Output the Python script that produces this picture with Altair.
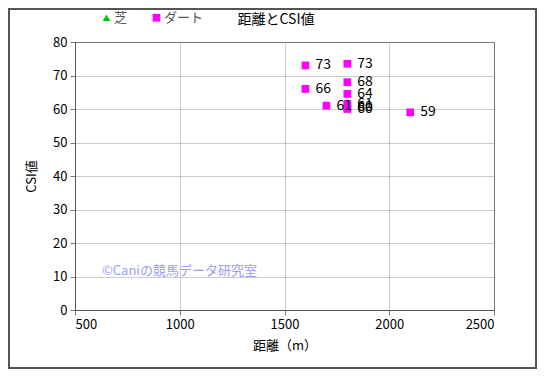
import altair as alt
import pandas as pd

# data
distance = [1600, 1800, 1600, 1800, 1800, 1700, 1800, 1800, 1800, 2100]
csi = [73, 73.5, 66, 68, 64.5, 61, 61.5, 60.5, 60, 59]
labels = ["73", "73", "66", "68", "64", "61", "61", "60", "60", "59"]
surface = ["ダート"] * 10
surface_domain = ["芝", "ダート"]
surface_colors = ["#00cc00", "#ff00ff"]
surface_shapes = ["triangle-up", "square"]

df = pd.DataFrame({"distance": distance, "csi": csi, "label": labels, "surface": surface})

FONT = "Noto Sans CJK JP"
W, H = 419, 268

x = alt.X("distance:Q", title="距離（m）",
          scale=alt.Scale(domain=[500, 2500], nice=False, zero=False),
          axis=alt.Axis(values=[500, 1000, 1500, 2000, 2500], format="d", titlePadding=8))
y = alt.Y("csi:Q", title="CSI値",
          scale=alt.Scale(domain=[0, 80], nice=False),
          axis=alt.Axis(values=list(range(0, 81, 10)), titlePadding=14))

leg = dict(title=None, orient="none", direction="horizontal",
           legendX=25, legendY=-31, labelFontSize=13, labelFont=FONT,
           labelColor="#555555", symbolSize=60, columnPadding=22, labelOffset=1)

points = alt.Chart(df).mark_point(filled=True, size=60, opacity=1).encode(
    x=x, y=y,
    color=alt.Color("surface:N", scale=alt.Scale(domain=surface_domain, range=surface_colors),
                    legend=alt.Legend(**leg)),
    shape=alt.Shape("surface:N", scale=alt.Scale(domain=surface_domain, range=surface_shapes),
                    legend=alt.Legend(**leg)),
)

text = alt.Chart(df).mark_text(align="left", baseline="middle", dx=10, fontSize=14,
                               font=FONT, color="black").encode(
    x=x, y=y, text="label:N")

title_txt = alt.Chart(pd.DataFrame({"t": ["距離とCSI値"]})).mark_text(
    align="center", baseline="middle", fontSize=14, font=FONT, color="black").encode(
    x=alt.value(201), y=alt.value(-22), text="t:N")

watermark = alt.Chart(pd.DataFrame({"t": ["©Caniの競馬データ研究室"]})).mark_text(
    align="left", baseline="middle", fontSize=13, font=FONT, color="#9a9aff").encode(
    x=alt.value(27), y=alt.value(229), text="t:N")

frame = alt.Chart(pd.DataFrame({"a": [0]})).mark_rect(
    fill=None, stroke="#555555", strokeWidth=2).encode(
    x=alt.value(-66), x2=alt.value(W + 42), y=alt.value(-33), y2=alt.value(H + 58))

chart = alt.layer(points, text, title_txt, watermark, frame).properties(
    width=W, height=H,
    padding={"left": 67, "top": 34, "right": 43, "bottom": 59},
    autosize=alt.AutoSizeParams(type="none"),
    background="white",
).configure_view(stroke="#555555", strokeWidth=1).configure_axis(
    labelFont=FONT, titleFont=FONT, labelFontSize=13, titleFontSize=13,
    labelColor="black", titleColor="black", titleFontWeight="normal",
    grid=True, gridColor="#999999", gridDash=[1, 1], gridWidth=1,
    domainColor="#555555", tickColor="#777777", tickSize=5, labelPadding=3,
)

chart.save("out.html", embed_options={"renderer": "svg", "actions": False})
